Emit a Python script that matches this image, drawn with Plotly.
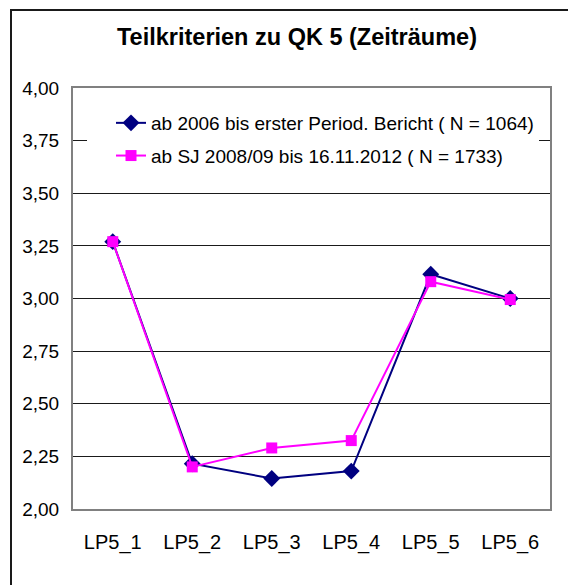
import plotly.graph_objects as go

categories = ["LP5_1", "LP5_2", "LP5_3", "LP5_4", "LP5_5", "LP5_6"]
series1_name = "ab 2006 bis erster Period. Bericht ( N = 1064)"
series1 = [3.27, 2.215, 2.145, 2.18, 3.115, 3.00]
series2_name = "ab SJ 2008/09 bis 16.11.2012 ( N = 1733)"
series2 = [3.27, 2.20, 2.29, 2.325, 3.08, 2.995]
title_text = "Teilkriterien zu QK 5 (Zeiträume)"

OFF = 8  # page body margin offset
W, H = 576 - OFF, 585 - OFF
L, R, T, B = 73 - OFF, 550 - OFF, 88 - OFF, 509 - OFF
pw, ph = R - L, B - T

def px_x(p):
    return (p - OFF - L) / pw

def px_y(p):
    return (B - (p - OFF)) / ph

FONT = "Liberation Sans, Arial, sans-serif"

fig = go.Figure()
fig.add_trace(go.Scatter(
    x=categories, y=series1, name=series1_name, mode="lines+markers",
    line=dict(color="#000080", width=2),
    marker=dict(symbol="diamond", size=13, color="#000080"),
    legendgroup="a",
))
fig.add_trace(go.Scatter(
    x=categories, y=series2, name=series2_name, mode="lines+markers",
    line=dict(color="#FF00FF", width=2),
    marker=dict(symbol="square", size=11, color="#FF00FF"),
    legendgroup="b",
))

fig.update_layout(
    width=W, height=H,
    margin=dict(l=L, r=W - R, t=T, b=H - B, pad=0),
    paper_bgcolor="white", plot_bgcolor="white",
    separators=",.",
    font=dict(family=FONT, size=19, color="black"),
    title=dict(text="<b>" + title_text + "</b>", x=(297 - OFF) / W, xanchor="center",
               y=1 - (37 - OFF) / H, yanchor="middle", font=dict(size=23.5, family=FONT)),
    showlegend=True,
    legend=dict(x=px_x(87), y=px_y(104), xanchor="left", yanchor="top",
                bgcolor="white", borderwidth=0, traceorder="grouped",
                indentation=24,
                tracegroupgap=5, font=dict(size=19, family=FONT)),
    shapes=[dict(type="rect", xref="paper", yref="paper",
                 x0=px_x(11), x1=px_x(600), y0=px_y(620), y1=px_y(10),
                 line=dict(color="#1a1a1a", width=2), layer="below")],
)
fig.update_xaxes(type="category", range=[-0.5, 5.5], showgrid=False,
                 showline=True, linecolor="#808080", linewidth=2, mirror=True,
                 ticks="", ticklen=0, ticklabelstandoff=14,
                 tickfont=dict(size=20), fixedrange=True)
fig.update_yaxes(range=[2, 4], dtick=0.25, tick0=2, tickformat=".2f",
                 showgrid=True, gridcolor="#1a1a1a", gridwidth=1,
                 showline=True, linecolor="#808080", linewidth=2, mirror=True,
                 zeroline=False, ticks="", ticklabelstandoff=8,
                 tickfont=dict(size=19), fixedrange=True)

fig.write_html("out.html")
